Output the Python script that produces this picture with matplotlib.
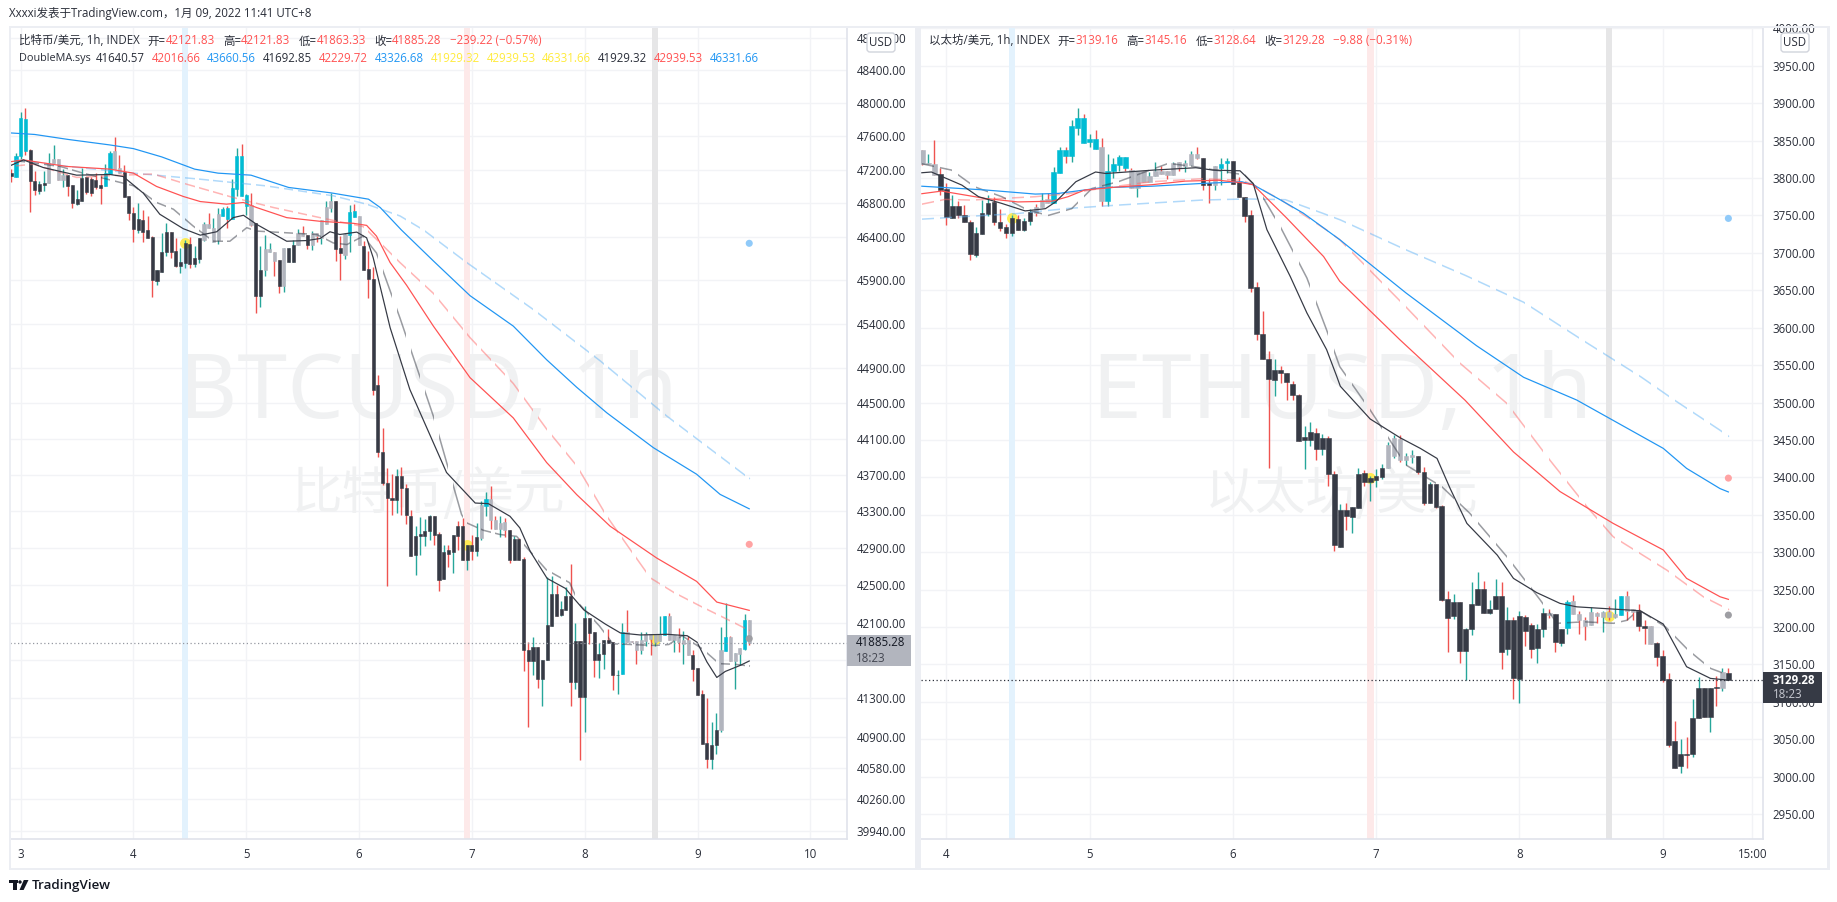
import numpy as np
import matplotlib
matplotlib.use("Agg")
import matplotlib.pyplot as plt
from matplotlib.patches import Rectangle, FancyBboxPatch, Circle, Polygon
from matplotlib.path import Path
from matplotlib.ticker import FixedLocator, FixedFormatter, NullLocator

plt.rcParams['font.family'] = ['Open Sans', 'Noto Sans CJK SC', 'DejaVu Sans']
plt.rcParams['axes.unicode_minus'] = False

# ---------- BTC candles (hourly bars, bar 0 = Jan 3 00:00) ----------
btc_first_bar = -2
btc_open = [47160,47120,47366,47810,47433,47065,46950,47018,47045,47279,47326,47081,47136,47018,46796,46827,47117,47089,47081,47018,
47010,47148,47421,47227,47168,46883,46685,46483,46602,46483,46400,45893,46000,46233,46459,46245,46071,46107,46329,46091,
46150,46376,46554,46352,46372,46649,46744,46614,46970,47362,46772,46780,46574,45715,46020,46226,46229,46138,45833,46119,
46119,46309,46447,46424,46309,46455,46396,46562,46744,46827,46277,46198,46428,46709,46649,46305,46031,45919,44698,43953,
43608,43441,43422,43682,43559,43253,42828,43035,43035,43082,43245,43057,42568,42875,42853,43144,43144,42774,42936,42864,
43009,43362,43435,43209,43107,43180,43100,42767,42998,42785,41811,41690,41839,41505,41700,42065,42408,42179,42235,42387,
41477,41901,41318,42146,41996,41700,41770,41915,41891,41541,41551,41996,41905,41905,41811,41908,41978,41891,41908,41971,
42172,41915,41960,41874,41915,41759,41622,41346,40838,40676,40814,40968,41794,41950,41690,41770,41822,42121.83]
btc_high = [47208,47398,47897,47940,47445,47188,47069,47180,47406,47493,47326,47208,47136,47018,46958,47216,47117,47109,47160,47136,
47267,47429,47588,47374,47263,46883,46764,46804,46720,46653,46416,46020,46447,46574,46459,46396,46273,46376,46408,46305,
46392,46582,46685,46633,46752,46764,46772,47089,47465,47505,46907,46930,46574,46297,46424,46336,46229,46138,46281,46281,
46376,46503,46530,46424,46475,46455,46606,46831,46930,46827,46416,46455,46780,46792,46649,46356,46245,46058,44812,44222,
43773,43707,43762,43784,43604,43311,43136,43235,43220,43264,43245,43078,42936,42936,43046,43191,43227,42936,43046,43173,
43409,43507,43582,43245,43245,43227,43100,43027,43009,42803,41891,41943,41839,41700,42586,42600,42504,42328,42475,42730,
42100,41901,42275,42153,41996,41884,41915,42030,41891,41601,42100,42232,41905,41905,41996,41996,41978,41978,42172,42172,
42197,41971,42047,42012,41960,41804,41622,41392,41304,41054,41151,42048,42311,41960,41780,41832,42188,42121.83]
btc_low = [47057,47120,47334,47378,46701,46899,46911,46950,47045,47279,47081,46998,46891,46748,46788,46827,46911,46883,46970,46796,
47010,47148,47208,47164,46879,46606,46344,46451,46344,46392,45703,45841,46000,46186,46158,46059,45988,46047,46047,46059,
46107,46356,46507,46344,46325,46649,46515,46614,46891,46883,46661,46534,45525,45596,45952,46226,45952,45758,45762,46119,
46119,46309,46412,46265,46257,46348,46321,46562,46701,46126,45901,46146,46226,46637,46309,46020,45695,44588,43898,43585,
42490,43256,43281,43263,43163,42817,42604,42828,42918,42991,42929,42440,42568,42694,42630,42882,42774,42658,42774,42817,
42991,43245,43107,43107,43020,43020,42738,42767,42774,41583,41003,41541,41406,41225,41700,42065,42172,42165,42235,41222,
41400,40660,40950,41874,41523,41516,41611,41888,41388,41345,41551,41891,41891,41665,41770,41856,41759,41856,41908,41971,
41915,41787,41787,41658,41752,41488,41335,40832,40580,40573,40728,40950,41794,41690,41400,41647,41804,41863.33]
btc_close = [47128,47366,47821,47425,47069,46962,47029,47041,47279,47334,47081,47136,47010,46808,46851,47101,46938,46922,46994,46986,
47160,47406,47208,47164,46879,46689,46495,46614,46463,46392,45901,46020,46233,46459,46233,46071,46115,46336,46091,46162,
46392,46554,46507,46515,46673,46732,46622,46982,47362,46891,46899,46542,45715,46020,46269,46269,46126,45833,46281,46281,
46317,46447,46412,46309,46455,46412,46606,46760,46827,46269,46214,46439,46697,46637,46309,46020,45913,44652,43953,43615,
43441,43422,43682,43552,43256,42817,43035,43057,43089,43245,43046,42558,42860,42839,43046,43035,42774,42936,42864,43020,
43373,43435,43202,43107,43173,43093,42767,42998,42774,41804,41690,41839,41505,41700,42072,42408,42172,42242,42387,41477,
41901,41318,42153,41989,41700,41770,41915,41888,41541,41548,41996,41891,41891,41804,41915,41978,41926,41978,41978,42172,
41915,41971,41891,41915,41752,41611,41335,40832,40676,40821,40968,41804,41950,41690,41780,41832,42125,41885.28]
btc_state = ("k"+"ccc"+"kkkk"+"gggg"+"k"*8+"cc"+"gg"+"k"*17+"g"*4+"c"*6+"g"+"kk"+"ggg"+"k"+"g"+"kk"+"gg"+"k"+"ggggg"+"kk"+"g"+"cc"+"g"
             +"k"*25+"g"+"c"+"g"*4+"k"*24+"c"+"g"*8+"c"+"g"*5+"k"*6+"g"+"c"+"ggg"+"c"+"g")

# BTC moving averages: bar index, price
btc_blue_x = [-2.3,3,10,19,24,30,37,42,49,57,66,74,76.5,81,87.8,95.6,104.8,111.9,118.3,124.7,134.6,143.8,148.8,155]
btc_blue_y = [47642,47623,47564,47497,47453,47354,47208,47160,47136,46990,46926,46851,46752,46488,46126,45723,45373,44989,44677,44390,44001,43707,43485,43326.68]
btc_blue_d_x = [-2.3,10,24,38,52,66.5,73.6,80.7,85.7,94.9,109.1,123.3,137.5,155]
btc_blue_d_y = [47330,47240,47160,47089,47010,46891,46792,46653,46488,46107,45562,44976,44352,43660.56]
btc_red_x = [-2.3,0.6,9.8,19,24,28.9,34.6,38.2,43.8,47.4,50.2,56.6,63.7,70.8,73.6,75.7,78.6,82.1,87.8,95.6,104.8,111.9,118.3,125.4,135.3,143.8,148.1,155]
btc_red_y = [47295,47318,47240,47208,47160,47002,46883,46823,46792,46812,46752,46633,46590,46566,46542,46416,46107,45844,45373,44786,44333,43836,43482,43137,42792,42540,42318,42229.72]
btc_red_d_x = [-2.3,2.7,11.9,19,28.2,35.3,45.2,53.8,63.7,72.9,76.5,80.7,87.8,95.6,104.8,111.9,118.3,124.7,129.7,134,139,144.6,151.7,155]
btc_red_d_y = [47240,47267,47109,47130,47150,47029,46871,46752,46633,46527,46336,46107,45750,45241,44720,44208,43800,43245,42882,42576,42420,42275,42100,42016.66]
btc_dark_x = [-2.3,0.6,4.8,11.9,19,21.8,26.1,29.6,34.6,38.2,41.7,45.2,47.4,50.2,56.6,60.9,63.7,65.8,67.9,71.5,73.6,75,78.6,82.8,87.8,90.6,96.7,99.5,104.1,106.2,108.4,112,115.9,117.3,119.8,124.4,127.6,131.8,137.5,141.8,143.9,146,148.1,149.9,153.1,155]
btc_dark_y = [47247,47318,47227,47136,47144,47120,46922,46673,46503,46427,46467,46633,46661,46554,46356,46364,46388,46467,46435,46463,46396,46163,45355,44652,44056,43726,43390,43383,43245,43118,42864,42572,42464,42380,42235,42083,41989,41968,41975,41960,41891,41683,41520,41583,41647,41692.85]
btc_dark_d_x = [-2.3,8.4,13.3,24,28.9,32.5,36.7,41,44.5,48.1,50.2,56.6,63,66.5,69.4,72.9,75.7,80.7,87.8,93.8,94.9,98.4,102,105.5,109,111.8,116.8,118.9,123.1,126,135,137.9,140.7,145,148.6,152,155]
btc_dark_d_y = [47318,47240,47160,47010,46812,46732,46534,46356,46356,46515,46475,46455,46435,46336,46317,46416,46218,45465,44352,43264,43173,43093,43046,43027,42828,42666,42525,42293,42065,41874,41857,41867,41960,41822,41665,41658,41640.57]
btc_signal_bars = [35, 95, 135]
btc_signal_prices = [46336, 42936, 41930]
btc_band_bars = [35, 95, 135]
btc_last_x = 155
btc_dots = [46331.66, 42939.53, 41929.32]
btc_last = 41885.28
btc_ticks = [48800,48400,48000,47600,47200,46800,46400,45900,45400,44900,44500,44100,43700,43300,42900,42500,42100,41700,41300,40900,40580,40260,39940]
btc_tick_labels = ["" if t == 41700 else f"{t:.2f}" for t in btc_ticks]
btc_day_bars = [0,24,48,72,96,120,144,168]
btc_day_labels = ["3","4","5","6","7","8","9","10"]

# ---------- ETH candles (hourly bars, bar 0 = Jan 4 00:00) ----------
eth_first_bar = -4
eth_open = [3838,3819,3819,3805,3785,3746,3762,3751,3741,3697,3725,3752,3768,3741,3734,3727,3745,3731,3743,3761,3761,3772,3767,3807,3838,
3830,3867,3880,3848,3852,3841,3769,3810,3817,3828,3811,3787,3810,3795,3802,3810,3810,3804,3821,3816,3818,3832,3827,3793,3790,
3814,3820,3823,3794,3775,3750,3654,3592,3558,3530,3543,3539,3525,3510,3450,3450,3459,3438,3453,3404,3307,3357,3347,3359,3406,
3394,3396,3401,3413,3428,3451,3423,3427,3428,3407,3366,3391,3362,3237,3215,3233,3168,3198,3230,3251,3219,3224,3241,3170,3210,
3131,3214,3203,3172,3198,3219,3217,3179,3199,3235,3218,3209,3203,3219,3213,3220,3213,3216,3241,3224,3222,3201,3201,3179,3161,
3131,3048,3014,3031,3031,3079,3119,3080,3120,3118,3139.16]
eth_high = [3838,3832,3851,3813,3793,3777,3769,3764,3744,3734,3770,3777,3774,3758,3738,3750,3751,3747,3758,3765,3780,3780,3815,3842,3841,
3877,3894,3886,3859,3864,3853,3832,3827,3831,3828,3814,3810,3810,3808,3821,3816,3810,3822,3821,3824,3836,3842,3827,3799,3816,
3827,3827,3823,3801,3775,3757,3661,3622,3569,3558,3549,3539,3529,3512,3468,3474,3466,3458,3455,3408,3364,3366,3360,3412,3410,
3402,3411,3418,3447,3456,3456,3433,3436,3429,3414,3394,3391,3363,3248,3244,3233,3199,3260,3274,3262,3236,3264,3260,3227,3214,
3221,3216,3206,3204,3225,3224,3217,3198,3236,3243,3222,3214,3227,3220,3221,3228,3237,3241,3248,3224,3231,3210,3201,3180,3169,
3138,3074,3050,3053,3104,3133,3119,3119,3134,3145,3145.16]
eth_low = [3817,3819,3804,3777,3737,3746,3746,3741,3690,3695,3725,3749,3737,3729,3720,3723,3731,3729,3737,3749,3761,3766,3767,3807,3820,
3822,3858,3847,3841,3839,3762,3762,3800,3810,3809,3787,3775,3794,3795,3802,3805,3799,3804,3809,3808,3818,3826,3784,3766,3784,
3791,3807,3792,3774,3741,3647,3584,3558,3413,3509,3526,3503,3504,3449,3411,3442,3423,3430,3388,3301,3307,3330,3326,3359,3388,
3369,3387,3398,3412,3426,3421,3416,3419,3405,3363,3366,3359,3235,3166,3211,3152,3129,3190,3229,3219,3217,3224,3144,3162,3104,
3098,3175,3159,3152,3187,3212,3167,3175,3191,3217,3191,3183,3203,3205,3194,3209,3212,3216,3209,3209,3195,3178,3177,3148,3126,
3040,3012,3005,3012,3027,3079,3080,3060,3095,3114,3128.64]
eth_close = [3819,3820,3804,3784,3748,3762,3750,3741,3698,3726,3753,3766,3741,3733,3727,3746,3731,3742,3754,3753,3771,3766,3808,3838,3830,
3869,3880,3847,3852,3839,3769,3809,3819,3828,3814,3787,3810,3794,3802,3810,3805,3804,3820,3815,3820,3832,3827,3791,3790,3816,
3819,3823,3792,3774,3749,3653,3591,3558,3531,3543,3539,3527,3510,3449,3454,3461,3438,3453,3404,3310,3356,3348,3360,3404,3394,
3399,3402,3413,3443,3452,3423,3428,3430,3407,3366,3391,3360,3236,3212,3233,3168,3198,3231,3251,3219,3224,3241,3167,3209,3132,
3215,3195,3171,3197,3219,3216,3180,3197,3233,3217,3209,3201,3220,3215,3220,3214,3217,3241,3222,3220,3201,3199,3177,3160,3129,
3042,3012,3030,3029,3079,3119,3080,3119,3118,3140,3129.28]
eth_state = ("ggg"+"k"*16+"ggg"+"c"*8+"g"+"c"*4+"g"*12+"kk"+"g"+"cc"+"k"*26+"g"*5+"k"*22+"g"+"kk"+"c"+"g"*8+"c"+"gg"+"kk"+"g"+"k"*11+"g"+"k")

eth_blue_x = [-4.1,6.5,14.9,18.8,26,34.4,42.8,49.5,51.4,55.9,59.8,65.9,77,88.8,96.7,105.6,120.1,124,129.6,131]
eth_blue_y = [3789,3784,3778.5,3779.4,3787,3789,3792.7,3795,3791,3771,3753,3717.6,3646.4,3576,3533.7,3503.3,3438.7,3412,3385,3380.5]
eth_blue_d_x = [-4.1,12,20.4,28.8,42.8,50.3,56.8,63,66,77,86.9,96.7,106.5,116.4,122,129.6,131]
eth_blue_d_y = [3745,3752.6,3759.3,3763.8,3770.5,3772,3771,3753,3744,3704,3670,3634,3583.7,3534,3503,3463,3455]
eth_red_x = [-4.1,-0.8,6.5,12,17.7,20.4,23.2,28.8,34.4,40,45.6,49.5,51.4,57,63.2,65.9,76,86.9,95,102.8,111.7,120.1,124,129.6,131]
eth_red_y = [3779,3782.5,3772.7,3768,3769,3775,3784,3788,3791,3795.8,3797,3793.6,3791,3746.6,3695,3662,3583.7,3503,3434,3381,3338.5,3303,3265,3240.5,3237]
eth_red_d_x = [-4.1,-0.2,4.2,14.9,20.4,26.6,34.4,42.8,49.5,51.4,56.4,63.6,65.9,77,86,93.9,101.1,107.3,111.7,120.7,126.8,131]
eth_red_d_y = [3765,3771.4,3770.5,3775,3779,3787,3795,3799,3797,3791,3769,3731,3717.6,3627.6,3552.8,3498.8,3423,3360.8,3320.7,3276,3240.5,3223.6]
eth_dark_x = [-4.1,-2.5,2.6,5.4,9.3,13.2,16.6,18.3,21.7,25,26.7,34.6,41.8,44.7,49.2,51.4,53.7,57.6,60.4,63.7,65.4,66,71,76,79.4,82.2,84.4,87.2,92.3,95,98.9,102.8,105.6,116.2,120.1,124,128,131]
eth_dark_y = [3807,3808,3790.5,3775,3766,3756,3759,3768,3795,3808,3806,3810.5,3813.7,3810.5,3809.6,3792.7,3731,3668.6,3619.7,3570.7,3534.9,3521.7,3478,3453,3438.7,3425.3,3385,3338.5,3296,3265,3246,3231.6,3227,3221.8,3204,3147,3131.4,3129]
eth_dark_d_x = [-4.1,0.9,4.8,9.3,13.7,17.1,21,24.4,28.8,37.2,41.7,50,52.3,55.9,60.4,63.7,65.9,71,77,83,87.7,93.9,99.5,102.3,106.8,111.8,114,116,120.5,124.3,128,131]
eth_dark_d_y = [3819,3810.5,3788,3775,3757,3750,3759,3786,3795,3819.5,3815,3804,3784,3735.5,3666.4,3597,3548,3490,3416.5,3387.5,3351.9,3294,3236,3205,3207,3205,3209,3223,3200,3169,3144.8,3135.9]
eth_signal_bars = [11, 71, 111]
eth_signal_prices = [3746, 3399, 3215]
eth_band_bars = [11, 71, 111]
eth_last_x = 131
eth_dots = [3746, 3399, 3216]
eth_last = 3129.28
eth_ticks = [4000,3950,3900,3850,3800,3750,3700,3650,3600,3550,3500,3450,3400,3350,3300,3250,3200,3150,3100,3050,3000,2950]
eth_tick_labels = [f"{t:.2f}" for t in eth_ticks]
eth_day_bars = [0,24,48,72,96,120,135]
eth_day_labels = ["4","5","6","7","8","9","15:00"]

# text
title_text = "Xxxxi发表于TradingView.com，1月 09, 2022 11:41 UTC+8"
btc_row1 = [("比特币/美元, 1h, INDEX", "d"), ("开=", "d"), ("42121.83", "r"), ("高=", "d"), ("42121.83", "r"),
            ("低=", "d"), ("41863.33", "r"), ("收=", "d"), ("41885.28", "r"), ("\u2212239.22 (\u22120.57%)", "r")]
btc_row2 = [("DoubleMA.sys", "d"), ("41640.57", "d"), ("42016.66", "r"), ("43660.56", "b"), ("41692.85", "d"), ("42229.72", "r"),
            ("43326.68", "b"), ("41929.32", "y"), ("42939.53", "y"), ("46331.66", "y"), ("41929.32", "d"), ("42939.53", "r"), ("46331.66", "b")]
eth_row1 = [("以太坊/美元, 1h, INDEX", "d"), ("开=", "d"), ("3139.16", "r"), ("高=", "d"), ("3145.16", "r"),
            ("低=", "d"), ("3128.64", "r"), ("收=", "d"), ("3129.28", "r"), ("\u22129.88 (\u22120.31%)", "r")]

assert len(btc_open) == len(btc_high) == len(btc_low) == len(btc_close) == len(btc_state) == 158
assert len(eth_open) == len(eth_high) == len(eth_low) == len(eth_close) == len(eth_state) == 136

# ---------- styles ----------
DARK = "#363a45"; CYAN = "#00bcd4"; GRAY = "#b2b5be"
RED = "#ef5350"; TEAL = "#26a69a"
LBLUE = "#2196f3"; LRED = "#ff5252"
INK = "#2a2e39"; EDGE = "#e0e3eb"; BAND = "#eceef3"; GRID = "#f2f3f6"
TC = {"d": INK, "r": "#ff5252", "b": "#2196f3", "y": "#ffeb3b"}
STATE = {"k": DARK, "c": CYAN, "g": GRAY}
W, H = 1837, 902
FS = 8.3

fig = plt.figure(figsize=(W/100, H/100), dpi=100, facecolor="white")

def make_axes(x0, x1, y0, y1):
    return fig.add_axes([x0/W, 1-y1/H, (x1-x0)/W, (y1-y0)/H], zorder=1)

def gap_clip(ax, first, last):
    """Vertical strips: the dashed averages are drawn two bars on, one bar off."""
    y0, y1 = ax.get_ylim()
    verts, codes = [], []
    for k in range(first - first % 3 - 1, last + 3, 3):
        verts += [(k, y0), (k+2, y0), (k+2, y1), (k, y1), (k, y0)]
        codes += [Path.MOVETO, Path.LINETO, Path.LINETO, Path.LINETO, Path.CLOSEPOLY]
    return Path(verts, codes)

def draw_panel(ax, first, o, h, l, c, state, width, lines, sig_x, sig_y, bands, band_w,
               last_x, dots, last, last_col, ticks, tick_labels, day_x, day_lab, xlim, ylim, log, wm1, wm2, wmfs):
    if log:
        ax.set_yscale("log")
    ax.set_xlim(*xlim); ax.set_ylim(*ylim)
    ax.set_axisbelow(True)
    ax.text(0.5, wm1[0], wm1[1], transform=ax.transAxes, ha="center", va="center", fontsize=wmfs,
            color="#f0f1f2", zorder=0.6, family=['Noto Sans', 'Noto Sans CJK SC'])
    ax.text(0.5, wm2[0], wm2[1], transform=ax.transAxes, ha="center", va="center", fontsize=36.5,
            color="#f0f1f2", zorder=0.6, family=['Noto Sans CJK SC', 'DejaVu Sans'])
    for b, col in zip(bands, ["#e3f2fd", "#fde9e9", "#e6e6e7"]):
        ax.axvspan(b-band_w, b+band_w, color=col, lw=0, zorder=0.8)
    ax.scatter(sig_x, sig_y, s=62, color="#ffeb3b", alpha=0.85, lw=0, zorder=2)
    x = np.arange(first, first+len(o))
    o = np.array(o, float); c = np.array(c, float)
    wick = [TEAL if cc >= oo else RED for oo, cc in zip(o, c)]
    ax.vlines(x, l, h, colors=wick, lw=1.0, zorder=2.2)
    tops = np.maximum(o, c); bots = np.minimum(o, c)
    ax.bar(x, tops-bots, bottom=bots, width=width, color=[STATE[s] for s in state],
           edgecolor=[STATE[s] for s in state], lw=0.4, zorder=2.4)
    strips = gap_clip(ax, first, last_x)
    for (lx, ly, col, dashed) in lines:
        if dashed:
            ln, = ax.plot(lx, ly, color=col, lw=1.1, alpha=0.5, zorder=3)
            ln.set_clip_path(strips, ax.transData)
        else:
            ax.plot(lx, ly, color=col, lw=0.88, zorder=3.2)
    ax.scatter([last_x]*3, dots, s=26, color=["#90caf9", "#ffa3a3", "#9e9ea3"], lw=0, zorder=3.4)
    ax.axhline(last, color=last_col, lw=0.9, ls=(0, (1, 2)), zorder=3.3)
    ax.yaxis.tick_right()
    ax.yaxis.set_major_locator(FixedLocator(ticks))
    ax.yaxis.set_major_formatter(FixedFormatter(tick_labels))
    ax.yaxis.set_minor_locator(NullLocator())
    ax.set_xticks(day_x); ax.set_xticklabels(day_lab)
    ax.tick_params(axis="both", length=0, labelsize=FS, labelcolor=INK)
    ax.tick_params(axis="y", pad=7)
    ax.tick_params(axis="x", pad=6.5)
    ax.grid(True, color=GRID, lw=1, zorder=0.5)
    for s in ("top", "left"):
        ax.spines[s].set_visible(False)
    for s in ("right", "bottom"):
        ax.spines[s].set_color(EDGE); ax.spines[s].set_linewidth(1.2)

ax1 = make_axes(10, 847, 28, 839)
ax2 = make_axes(921, 1763, 28, 839)

draw_panel(ax1, btc_first_bar, btc_open, btc_high, btc_low, btc_close, btc_state, 0.66,
           [(btc_blue_d_x, btc_blue_d_y, "#64b5f6", True), (btc_red_d_x, btc_red_d_y, "#ff6b6b", True), (btc_dark_d_x, btc_dark_d_y, DARK, True),
            (btc_blue_x, btc_blue_y, LBLUE, False), (btc_red_x, btc_red_y, LRED, False), (btc_dark_x, btc_dark_y, DARK, False)],
           btc_signal_bars, btc_signal_prices, btc_band_bars, 0.67, btc_last_x, btc_dots, btc_last, "#9598a1",
           btc_ticks, btc_tick_labels, btc_day_bars, btc_day_labels, (-2.27, 175.8), (39860, 48921), True,
           (0.548, "BTCUSD, 1h"), (0.425, "比特币/美元"), 64.5)
draw_panel(ax2, eth_first_bar, eth_open, eth_high, eth_low, eth_close, eth_state, 0.78,
           [(eth_blue_d_x, eth_blue_d_y, "#64b5f6", True), (eth_red_d_x, eth_red_d_y, "#ff6b6b", True), (eth_dark_d_x, eth_dark_d_y, DARK, True),
            (eth_blue_x, eth_blue_y, LBLUE, False), (eth_red_x, eth_red_y, LRED, False), (eth_dark_x, eth_dark_y, DARK, False)],
           eth_signal_bars, eth_signal_prices, eth_band_bars, 0.56, eth_last_x, eth_dots, eth_last, "#2a2e39",
           eth_ticks, eth_tick_labels, eth_day_bars, eth_day_labels, (-4.24, 136.8), (2916.8, 4000.4), False,
           (0.548, "ETHUSD, 1h"), (0.425, "以太坊/美元"), 64.5)

# ---------- chrome overlay (page pixels) ----------
ov = fig.add_axes([0, 0, 1, 1], zorder=5)
ov.set_xlim(0, W); ov.set_ylim(H, 0); ov.axis("off"); ov.patch.set_alpha(0)

for (x0, y0, x1, y1) in [(9, 26, 1830, 28), (9, 26, 11, 870), (915, 26, 921, 870), (1827, 26, 1830, 870), (9, 868, 1830, 870)]:
    ov.add_patch(Rectangle((x0, y0), x1-x0, y1-y0, color=BAND, lw=0))

ov.text(9, 13, title_text, fontsize=FS, color=INK, va="center")

renderer = fig.canvas.get_renderer()
def row(x, y, segs, gap_val=8.0, first_gap=None, first_fs=None):
    for i, (text, col) in enumerate(segs):
        fs = first_fs if (i == 0 and first_fs) else FS
        t = ov.text(x, y, text, fontsize=fs, color=TC[col], va="center")
        w = t.get_window_extent(renderer).width
        if text.endswith("="):
            g = 0
        elif i == 0 and first_gap is not None:
            g = first_gap
        else:
            g = gap_val
        x += w + g

row(19, 41, btc_row1)
row(19, 58, btc_row2, gap_val=6.8, first_gap=5, first_fs=7.8)
row(929, 41, eth_row1)

for cx in (881, 1795):
    ov.add_patch(FancyBboxPatch((cx-14, 33), 28, 19, boxstyle="round,pad=0,rounding_size=3", fc="white", ec="#d1d4dc", lw=1))
    ov.text(cx, 42.5, "USD", fontsize=FS, color=INK, ha="center", va="center")

# last price tags
ov.add_patch(Rectangle((847, 635), 64, 31, color=GRAY, lw=0))
ov.text(856, 643, "41885.28", fontsize=FS, color="#131722", va="center")
ov.text(856, 658, "18:23", fontsize=FS, color="#434651", va="center")
ov.add_patch(Rectangle((1763, 672), 59, 31, color=DARK, lw=0))
ov.text(1773, 680, "3129.28", fontsize=FS, color="white", va="center", fontweight="bold")
ov.text(1773, 695, "18:23", fontsize=FS, color="#c8cad2", va="center")

# TradingView logo + word
ov.add_patch(Rectangle((9, 880), 8.5, 3.2, color="#131722", lw=0))
ov.add_patch(Rectangle((13.2, 880), 3.6, 10, color="#131722", lw=0))
ov.add_patch(Circle((20, 882), 1.7, color="#131722", lw=0))
ov.add_patch(Polygon([[23.8, 880], [28.5, 880], [23.6, 890], [19.5, 890]], color="#131722", lw=0))
ov.text(32, 885, "TradingView", fontsize=9.6, color="#131722", va="center", fontweight="semibold")

fig.savefig("out.png", dpi=100, facecolor="white")
